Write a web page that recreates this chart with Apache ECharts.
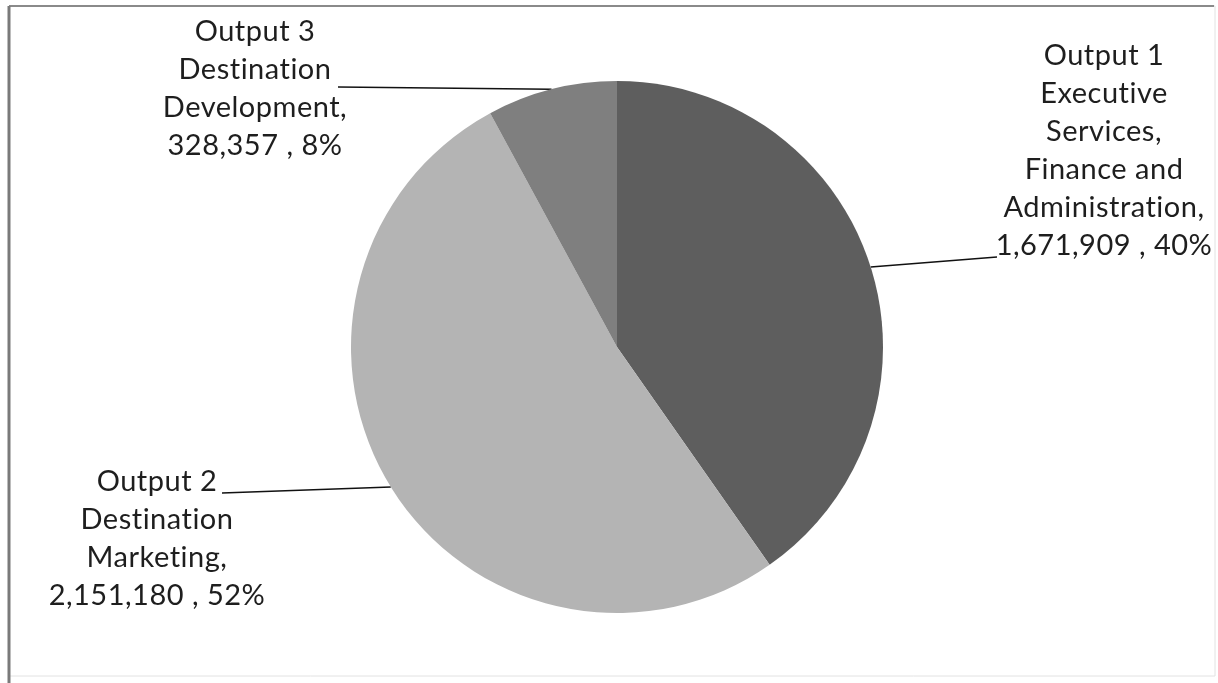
<!DOCTYPE html>
<html>
<head>
<meta charset="utf-8">
<title>Budget by Output</title>
<script src="https://cdn.jsdelivr.net/npm/echarts@6/dist/echarts.min.js"></script>
<style>
  html, body { margin: 0; padding: 0; background: #ffffff; }
  #chart { width: 1218px; height: 683px; }
</style>
</head>
<body>
<div id="chart"></div>
<script>
// Budget allocation per output
const categories = [
  'Output 1\nExecutive\nServices,\nFinance and\nAdministration',
  'Output 2\nDestination\nMarketing',
  'Output 3\nDestination\nDevelopment'
];
const amounts = [1671909, 2151180, 328357];
const sliceColors = ['#5e5e5e', '#b4b4b4', '#7f7f7f'];

// Where each label block sits (top-centre of the text) and where its leader line meets it
const labelSpots = [
  { x: 1104, y: 37, anchor: [997, 257] },
  { x: 157, y: 463, anchor: [222, 493] },
  { x: 255, y: 13, anchor: [338, 87] }
];

// A touch of letter spacing on every canvas context keeps "ti" from being drawn as a ligature
(function () {
  const orig = HTMLCanvasElement.prototype.getContext;
  HTMLCanvasElement.prototype.getContext = function (type, opts) {
    const ctx = orig.call(this, type, opts);
    if (ctx && type === '2d' && 'letterSpacing' in ctx) {
      const setFont = Object.getOwnPropertyDescriptor(CanvasRenderingContext2D.prototype, 'font');
      if (!ctx.__spaced) {
        ctx.__spaced = true;
        Object.defineProperty(ctx, 'font', {
          configurable: true,
          get() { return setFont.get.call(this); },
          set(v) { setFont.set.call(this, v); this.letterSpacing = '0.5px'; }
        });
      }
    }
    return ctx;
  };
})();

const chart = echarts.init(document.getElementById('chart'), null, { renderer: 'canvas' });

const fmt = n => n.toLocaleString('en-US');

chart.setOption({
  animation: false,
  backgroundColor: '#ffffff',
  graphic: [
    // chart frame
    { type: 'rect', shape: { x: 9, y: 6, width: 1206, height: 670 },
      style: { fill: 'none', stroke: '#e2e2e2', lineWidth: 1 } },
    { type: 'line', shape: { x1: 9, y1: 6, x2: 1214, y2: 6 },
      style: { stroke: '#8a8a8a', lineWidth: 2 } },
    { type: 'line', shape: { x1: 9, y1: 6, x2: 9, y2: 683 },
      style: { stroke: '#7a7a7a', lineWidth: 3 } }
  ],
  series: [{
    type: 'pie',
    center: [617, 347],
    radius: 266,
    startAngle: 90,
    clockwise: true,
    percentPrecision: 0,
    avoidLabelOverlap: false,
    data: categories.map((name, i) => ({
      name,
      value: amounts[i],
      itemStyle: { color: sliceColors[i] }
    })),
    label: {
      show: true,
      position: 'outside',
      formatter: p => `${p.name},\n${fmt(p.value)} , ${Math.round(p.percent)}%`,
      fontFamily: 'Lato, "Liberation Sans", sans-serif',
      fontSize: 29,
      lineHeight: 38,
      color: '#1e1e1e',
      align: 'center'
    },
    labelLine: {
      show: true,
      lineStyle: { color: '#111111', width: 1.5 }
    },
    labelLayout: params => {
      const spot = labelSpots[params.dataIndex];
      const edge = params.labelLinePoints ? params.labelLinePoints[0] : spot.anchor;
      return {
        x: spot.x,
        y: spot.y,
        align: 'center',
        verticalAlign: 'top',
        labelLinePoints: [edge, spot.anchor, spot.anchor]
      };
    },
    emphasis: { disabled: true }
  }]
});
</script>
</body>
</html>
